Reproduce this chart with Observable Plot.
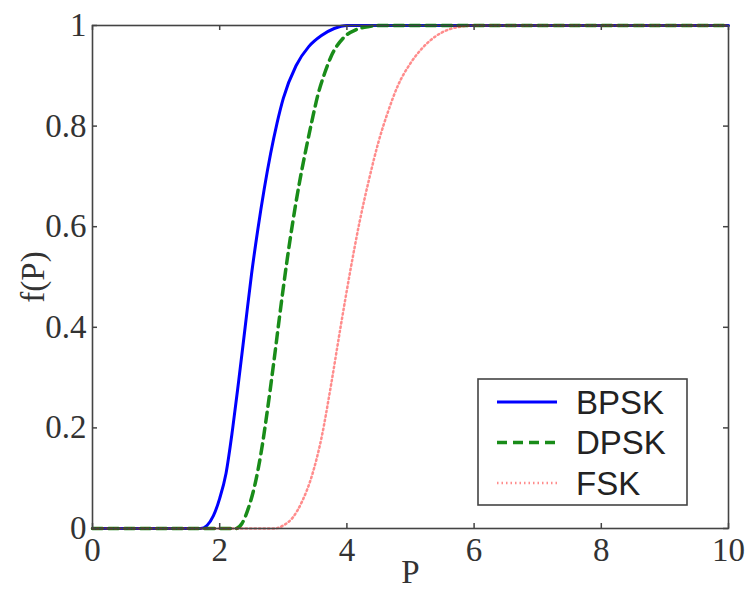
<!DOCTYPE html>
<html>
<head>
<meta charset="utf-8">
<script src="https://cdn.jsdelivr.net/npm/d3@7"></script>
<script src="https://cdn.jsdelivr.net/npm/@observablehq/plot@0.6"></script>
<style>
  html, body { margin: 0; padding: 0; background: #fff; }
</style>
</head>
<body>
<div id="chart"></div>
<script>
// Data
const seriesNames = ["BPSK", "DPSK", "FSK"];
const bpskP = [0, 1.7, 1.8, 1.9, 2.0, 2.1, 2.2, 2.3, 2.4, 2.5, 2.6, 2.7, 2.8, 2.9, 3.0, 3.2, 3.4, 3.6, 3.8, 4.0, 10];
const bpskF = [0, 0, 0.006, 0.025, 0.06, 0.11, 0.195, 0.295, 0.40, 0.505, 0.595, 0.675, 0.745, 0.805, 0.855, 0.92, 0.958, 0.98, 0.994, 1, 1];
const dpskP = [0, 2.25, 2.35, 2.45, 2.55, 2.65, 2.75, 2.85, 2.95, 3.05, 3.15, 3.25, 3.35, 3.45, 3.55, 3.65, 3.75, 3.95, 4.15, 4.35, 4.55, 10];
const dpskF = [0, 0, 0.01, 0.04, 0.085, 0.15, 0.235, 0.33, 0.43, 0.525, 0.61, 0.685, 0.75, 0.81, 0.865, 0.905, 0.938, 0.976, 0.992, 0.998, 1, 1];
const fskP = [0, 2.85, 3.0, 3.15, 3.3, 3.45, 3.6, 3.75, 3.9, 4.05, 4.2, 4.35, 4.5, 4.65, 4.8, 5.0, 5.2, 5.4, 5.6, 5.8, 6.0, 10];
const fskF = [0, 0, 0.006, 0.022, 0.055, 0.105, 0.18, 0.285, 0.40, 0.51, 0.61, 0.695, 0.77, 0.83, 0.88, 0.925, 0.957, 0.979, 0.992, 0.998, 1, 1];
const xTicks = [0, 2, 4, 6, 8, 10];
const yTicks = [0, 0.2, 0.4, 0.6, 0.8, 1];
const xLabel = "P";
const yLabel = "f(P)";

const toRows = (ps, fs) => ps.map((p, i) => ({P: p, f: fs[i]}));
const bpsk = toRows(bpskP, bpskF);
const dpsk = toRows(dpskP, dpskF);
const fsk = toRows(fskP, fskF);

const W = 747, H = 592;
const mL = 92, mR = 19, mT = 25, mB = 64;
const innerW = W - mL - mR, innerH = H - mT - mB;
const serif = "'Liberation Serif', 'DejaVu Serif', serif";
const sans = "'Liberation Sans', Arial, sans-serif";
const axisColor = "#444";
const fs = 33;

const styles = [
  {stroke: "#0000ff", strokeWidth: 3, strokeOpacity: 1, dash: null},
  {stroke: "#008000", strokeWidth: 3.5, strokeOpacity: 0.9, dash: "10,6"},
  {stroke: "#ff0000", strokeWidth: 2.5, strokeOpacity: 0.45, dash: "1.5,3"}
];
const datasets = [bpsk, dpsk, fsk];

const chart = Plot.plot({
  width: W, height: H,
  marginLeft: mL, marginRight: mR, marginTop: mT, marginBottom: mB,
  x: {domain: [0, 10]},
  y: {domain: [0, 1]},
  style: {fontFamily: serif, background: "#fff"},
  marks: [
    ...datasets.map((d, i) => Plot.line(d, {
      x: "P", y: "f", curve: "monotone-x",
      stroke: styles[i].stroke, strokeWidth: styles[i].strokeWidth,
      strokeOpacity: styles[i].strokeOpacity,
      strokeDasharray: styles[i].dash
    })),
    Plot.frame({stroke: axisColor, strokeWidth: 1.6}),
    Plot.tickX(xTicks, {x: d => d, insetTop: innerH - 5, stroke: axisColor, strokeWidth: 1.5}),
    Plot.tickX(xTicks, {x: d => d, insetBottom: innerH - 5, stroke: axisColor, strokeWidth: 1.5}),
    Plot.tickY(yTicks, {y: d => d, insetRight: innerW - 5, stroke: axisColor, strokeWidth: 1.5}),
    Plot.tickY(yTicks, {y: d => d, insetLeft: innerW - 5, stroke: axisColor, strokeWidth: 1.5}),
    Plot.axisX(xTicks, {tickSize: 0, tickPadding: 9, fontSize: fs, fontFamily: serif, fill: "#333", label: null, tickFormat: d => String(d)}),
    Plot.axisY(yTicks, {tickSize: 0, tickPadding: 6, fontSize: fs, fontFamily: serif, fill: "#333", label: null, tickFormat: d => String(d)}),
    Plot.text([yLabel], {frameAnchor: "left", dx: -59, rotate: -90, textAnchor: "middle", lineAnchor: "middle", fontSize: fs, fontFamily: serif, fill: "#333"}),
    Plot.text([xLabel], {frameAnchor: "bottom", dy: 44, textAnchor: "middle", lineAnchor: "middle", fontSize: fs, fontFamily: serif, fill: "#333"})
  ]
});

document.getElementById("chart").appendChild(chart);

// Legend box inside the plot (lower right)
const svg = d3.select(chart);
const lg = svg.append("g").attr("class", "legend");
const bx = 478, by = 379, bw = 209, bh = 126;
lg.append("rect").attr("x", bx).attr("y", by).attr("width", bw).attr("height", bh)
  .attr("fill", "#fff").attr("stroke", axisColor).attr("stroke-width", 1.6);
seriesNames.forEach((name, i) => {
  const cy = 402 + i * 40.5;
  lg.append("line").attr("x1", 497).attr("x2", 557).attr("y1", cy).attr("y2", cy)
    .attr("stroke", styles[i].stroke).attr("stroke-width", styles[i].strokeWidth)
    .attr("stroke-opacity", styles[i].strokeOpacity)
    .attr("stroke-dasharray", styles[i].dash);
  lg.append("text").attr("x", 576).attr("y", cy).attr("dy", "0.36em")
    .attr("text-anchor", "start")
    .attr("font-family", sans).attr("font-size", fs).attr("fill", "#222").text(name);
});
</script>
</body>
</html>
